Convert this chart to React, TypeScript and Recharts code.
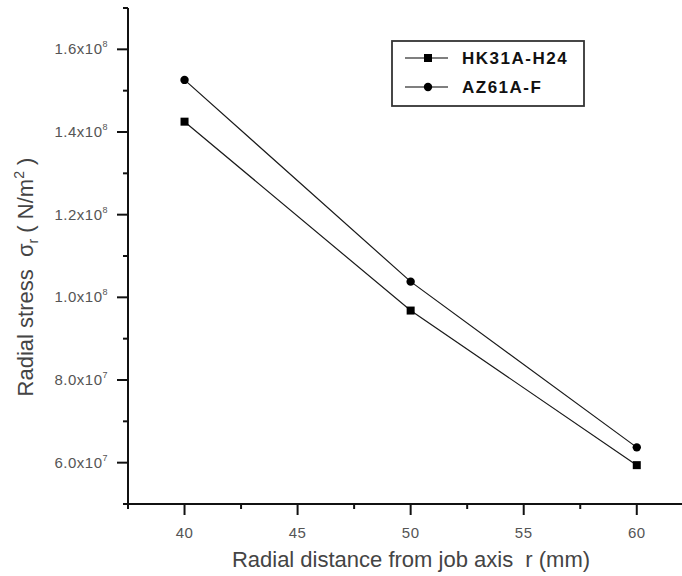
import { LineChart, Line, XAxis, YAxis, Legend } from 'recharts';

const rValues = [40, 50, 60];
const hk31aH24 = [1.425e8, 9.68e7, 5.94e7];
const az61aF = [1.526e8, 1.038e8, 6.37e7];

const xMajorTicks = [40, 45, 50, 55, 60];
const xMinorTicks = [37.5, 42.5, 47.5, 52.5, 57.5];
const yMajorTicks = [6e7, 8e7, 1e8, 1.2e8, 1.4e8, 1.6e8];
const yMinorTicks = [5e7, 7e7, 9e7, 1.1e8, 1.3e8, 1.5e8, 1.7e8];

const seriesOrder = ['hk', 'az'];
const seriesNames = { hk: 'HK31A-H24', az: 'AZ61A-F' };

const data = rValues.map((r, i) => ({ r, hk: hk31aH24[i], az: az61aF[i] }));

const FONT = '"Liberation Sans", Arial, sans-serif';
const INK = '#111';

function sci(v: number) {
    const exp = Math.floor(Math.log10(v) + 1e-9);
    const mant = (v / Math.pow(10, exp)).toFixed(1);
    return { mant, exp };
}

function YTick({ x, y, payload }: any) {
    const v = payload.value;
    const major = yMajorTicks.includes(v);
    const len = major ? 11 : 5;
    const { mant, exp } = sci(v);
    return (
        <g>
            <line x1={x - len} x2={x} y1={y} y2={y} stroke={INK} strokeWidth={2} />
            {major && (
                <text x={x - 20} y={y + 5} textAnchor="end" fontFamily={FONT} fontSize={15} fill="#555" letterSpacing={0.5}>
                    {mant}x10
                    <tspan dy={-7} fontSize={9}>{exp}</tspan>
                </text>
            )}
        </g>
    );
}

function XTick({ x, y, payload }: any) {
    const v = payload.value;
    const major = xMajorTicks.includes(v);
    const len = major ? 11 : 5;
    return (
        <g>
            <line x1={x} x2={x} y1={y} y2={y + len} stroke={INK} strokeWidth={2} />
            {major && (
                <text x={x} y={y + 34} textAnchor="middle" fontFamily={FONT} fontSize={15} fill="#555" letterSpacing={0.5}>
                    {v}
                </text>
            )}
        </g>
    );
}

function SquareDot({ cx, cy, index }: any) {
    return <rect key={`sq-${index}`} x={cx - 4} y={cy - 4} width={8} height={8} fill="#000" />;
}

function LegendBox({ payload }: any) {
    const items = [...(payload || [])].sort(
        (a: any, b: any) => seriesOrder.indexOf(a.dataKey) - seriesOrder.indexOf(b.dataKey)
    );
    return (
        <svg width={194} height={67}>
            <rect x={1} y={1} width={192} height={65} fill="#fff" stroke="#333" strokeWidth={1.8} />
            {items.map((p: any, i: number) => {
                const cy = 18 + i * 29;
                return (
                    <g key={p.dataKey}>
                        <line x1={14} x2={57} y1={cy} y2={cy} stroke="#000" strokeWidth={1.2} />
                        {p.dataKey === 'hk' ? (
                            <rect x={33} y={cy - 4} width={8} height={8} fill="#000" />
                        ) : (
                            <circle cx={37} cy={cy} r={4.2} fill="#000" />
                        )}
                        <text x={71} y={cy + 6} fontFamily={FONT} fontWeight="bold" fontSize={17} letterSpacing={1.5} fill="#111">
                            {p.value}
                        </text>
                    </g>
                );
            })}
        </svg>
    );
}

export default function App() {
    return (
        <div style={{ position: 'absolute', left: 0, top: 0, width: 682, height: 576, background: '#fff' }}>
            <LineChart width={682} height={576} data={data} margin={{ top: 8, right: 0, bottom: 0, left: 0 }}>
                <XAxis
                    dataKey="r"
                    type="number"
                    domain={[37.5, 62]}
                    ticks={[...xMajorTicks, ...xMinorTicks].sort((a, b) => a - b)}
                    interval={0}
                    height={72}
                    tickSize={0}
                    tickMargin={0}
                    tickLine={false}
                    axisLine={{ stroke: INK, strokeWidth: 2 }}
                    tick={<XTick />}
                    allowDataOverflow
                />
                <YAxis
                    type="number"
                    domain={[5e7, 1.7e8]}
                    ticks={[...yMajorTicks, ...yMinorTicks].sort((a, b) => a - b)}
                    interval={0}
                    width={128}
                    tickSize={0}
                    tickMargin={0}
                    tickLine={false}
                    axisLine={{ stroke: INK, strokeWidth: 2 }}
                    tick={<YTick />}
                    allowDataOverflow
                />
                <Legend
                    layout="vertical"
                    align="center"
                    verticalAlign="middle"
                    content={<LegendBox />}
                    wrapperStyle={{ left: 391, top: 40, width: 194, height: 67 }}
                />
                <Line
                    name={seriesNames.hk}
                    dataKey="hk"
                    stroke="#1a1a1a"
                    strokeWidth={1.2}
                    dot={<SquareDot />}
                    activeDot={false}
                    isAnimationActive={false}
                />
                <Line
                    name={seriesNames.az}
                    dataKey="az"
                    stroke="#1a1a1a"
                    strokeWidth={1.2}
                    dot={{ r: 4.2, fill: '#000', stroke: 'none' }}
                    activeDot={false}
                    isAnimationActive={false}
                />
                <text
                    x={33}
                    y={277}
                    transform="rotate(-90, 33, 277)"
                    textAnchor="middle"
                    fontFamily={FONT}
                    fontSize={22}
                    fill="#444"
                    style={{ whiteSpace: 'pre' }}
                >
                    {'Radial stress  \u03c3'}
                    <tspan dy={5} fontSize={14}>r</tspan>
                    <tspan dy={-5}>{' ( N/m'}</tspan>
                    <tspan dy={-9} fontSize={14}>2</tspan>
                    <tspan dy={9}>{' )'}</tspan>
                </text>
                <text x={411} y={567} textAnchor="middle" fontFamily={FONT} fontSize={22} fill="#444" style={{ whiteSpace: 'pre' }}>
                    {'Radial distance from job axis  r (mm)'}
                </text>
            </LineChart>
        </div>
    );
}
